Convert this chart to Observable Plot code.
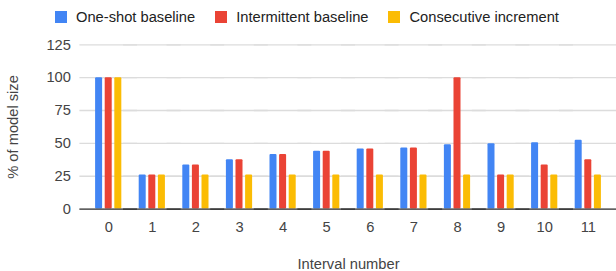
<!DOCTYPE html>
<html>
<head>
<meta charset="utf-8">
<script src="https://cdn.jsdelivr.net/npm/d3@7"></script>
<script src="https://cdn.jsdelivr.net/npm/@observablehq/plot@0.6"></script>
<style>
  html, body { margin: 0; padding: 0; background: #fff; }
  #wrap { width: 616px; height: 271px; font-family: "Liberation Sans", Arial, sans-serif; }
  #legend { height: 34px; display: flex; align-items: center; padding-left: 55px; box-sizing: border-box; gap: 20px; font-size: 14.7px; color: #222; }
  .item { display: flex; align-items: center; gap: 9px; }
  .sw { width: 12px; height: 12px; display: inline-block; }
  svg { display: block; }
</style>
</head>
<body>
<div id="wrap">
  <div id="legend"></div>
  <div id="chart"></div>
</div>
<script>
const intervals = [0, 1, 2, 3, 4, 5, 6, 7, 8, 9, 10, 11];
const seriesNames = ["One-shot baseline", "Intermittent baseline", "Consecutive increment"];
const seriesColors = ["#4285F4", "#EA4335", "#FBBC04"];
const oneShot      = [100, 26, 33.5, 37.5, 41.5, 44, 45.7, 46.5, 49, 49.8, 50.5, 52.3];
const intermittent = [100, 26, 33.5, 37.5, 41.5, 44, 45.7, 46.5, 100, 26, 33.5, 37.5];
const consecutive  = [100, 26, 26, 26, 26, 26, 26, 26, 26, 26, 26, 26];
const yTicks = [0, 25, 50, 75, 100, 125];

const seriesValues = [oneShot, intermittent, consecutive];
const data = intervals.flatMap((iv, i) =>
  seriesNames.map((s, k) => ({interval: iv, series: s, value: seriesValues[k][i]}))
);

// legend
const legend = document.getElementById("legend");
seriesNames.forEach((s, k) => {
  const it = document.createElement("div");
  it.className = "item";
  const sw = document.createElement("span");
  sw.className = "sw";
  sw.style.background = seriesColors[k];
  const tx = document.createElement("span");
  tx.textContent = s;
  it.appendChild(sw); it.appendChild(tx);
  legend.appendChild(it);
});

const chart = Plot.plot({
  width: 616,
  height: 237,
  marginLeft: 80,
  marginRight: 0,
  marginTop: 10.3,
  marginBottom: 62.4,
  style: {fontFamily: "'Liberation Sans', Arial, sans-serif", fontSize: "14.7px", color: "#444", background: "#fff"},
  fx: {domain: intervals, round: false, paddingInner: 0, paddingOuter: 0.147, axis: "bottom", tickSize: 0, tickPadding: 12,
       label: "Interval number", labelAnchor: "center", labelOffset: 60},
  x: {domain: seriesNames, axis: null, round: false, paddingInner: 0.27, paddingOuter: 0.905},
  y: {domain: [0, 125], ticks: yTicks, tickSize: 0, tickPadding: 16, label: "% of model size",
      labelAnchor: "center", labelOffset: 79, labelArrow: "none"},
  color: {domain: seriesNames, range: seriesColors},
  marks: [
    Plot.ruleY(yTicks, {stroke: "#dcdcdc", strokeWidth: 1.3, insetLeft: -7, insetRight: -7}),
    Plot.barY(data, {fx: "interval", x: "series", y: "value", fill: "series", rx: 1}),
    Plot.ruleY([0], {stroke: "#333", strokeWidth: 1.2, insetLeft: -7, insetRight: -7})
  ]
});
document.getElementById("chart").appendChild(chart);
</script>
</body>
</html>
